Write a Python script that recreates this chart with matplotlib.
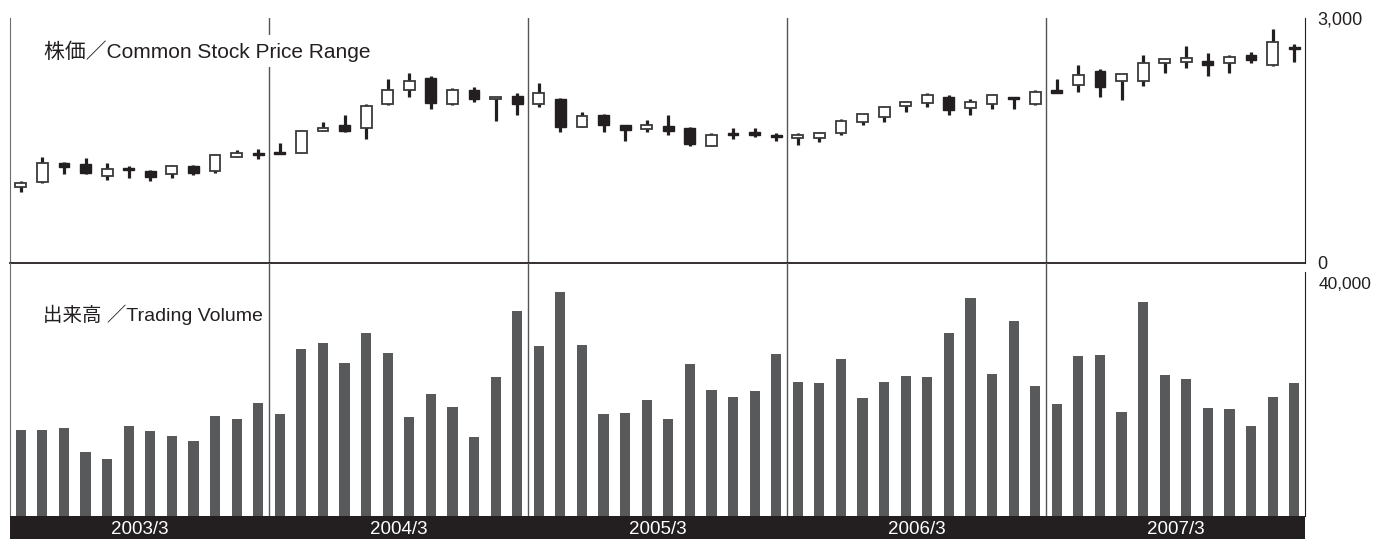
import matplotlib
matplotlib.use("Agg")
import matplotlib.pyplot as plt
from matplotlib.patches import Rectangle

plt.rcParams['font.family'] = ['Liberation Sans', 'Noto Sans CJK JP', 'DejaVu Sans']

# ---------------- data ----------------
year_labels = ["2003/3", "2004/3", "2005/3", "2006/3", "2007/3"]

opens = [923, 984, 1217, 1205, 1065, 1160, 1123, 1082, 1190, 1126, 1298, 1340,
         1352, 1347, 1617, 1683, 1647, 1945, 2117, 2264, 1941, 2117, 2002, 2047,
         1945, 2006, 1666, 1810, 1683, 1634, 1675, 1654, 1429, 1593, 1601, 1568,
         1528, 1528, 1585, 1724, 1789, 1920, 1961, 2031, 1892, 1941, 2022, 1941,
         2117, 2174, 2350, 2231, 2227, 2452, 2460, 2476, 2444, 2546, 2420, 2636]
closes = [972, 1225, 1175, 1102, 1144, 1140, 1053, 1188, 1102, 1315, 1340, 1315,
          1331, 1617, 1650, 1613, 1924, 2117, 2227, 1961, 2113, 2006, 2027, 1945,
          2076, 1663, 1798, 1687, 1626, 1683, 1613, 1454, 1564, 1561, 1568, 1536,
          1564, 1593, 1736, 1818, 1908, 1969, 2052, 1871, 1969, 2059, 2006, 2088,
          2083, 2304, 2150, 2313, 2444, 2493, 2506, 2420, 2525, 2485, 2709, 2616]
highs = [1000, 1291, 1237, 1279, 1217, 1188, 1135, 1200, 1196, 1328, 1380, 1393,
         1463, 1626, 1720, 1806, 1948, 2248, 2321, 2285, 2137, 2150, 2030, 2076,
         2199, 2015, 1843, 1818, 1686, 1748, 1810, 1666, 1585, 1647, 1654, 1593,
         1585, 1596, 1764, 1821, 1920, 1985, 2076, 2052, 2002, 2062, 2034, 2117,
         2248, 2423, 2374, 2316, 2546, 2496, 2656, 2567, 2546, 2587, 2861, 2681]
lows = [861, 980, 1082, 1086, 1009, 1033, 1004, 1033, 1077, 1094, 1295, 1266,
        1328, 1340, 1612, 1605, 1512, 1929, 2034, 1880, 1929, 1966, 1740, 1814,
        1904, 1605, 1659, 1605, 1494, 1598, 1568, 1433, 1425, 1512, 1544, 1494,
        1442, 1482, 1568, 1691, 1728, 1850, 1912, 1814, 1814, 1887, 1887, 1938,
        2076, 2096, 2034, 1994, 2169, 2321, 2390, 2288, 2321, 2444, 2416, 2464]
volumes = [14800, 14800, 15100, 11000, 9800, 15450, 14600, 13700, 12900, 17200, 16650, 19400,
           17500, 28700, 29700, 26300, 31400, 28000, 17000, 20900, 18700, 13600, 23900, 35200,
           29200, 38450, 29350, 17500, 17700, 19900, 16650, 26100, 21600, 20400, 21450, 27800,
           23000, 22800, 26950, 20250, 23000, 24000, 23850, 31400, 37400, 24400, 33500, 22300,
           19250, 27450, 27650, 17850, 36750, 24200, 23500, 18550, 18350, 15450, 20450, 22850]

# ---------------- layout (pixels) ----------------
W, H = 1380, 539
x0, x1 = 10, 1305
p_top, p_bot = 18, 262.6
v_bot = 516
v_40k = 283

def rect(left, top, right, bottom):
    return [left / W, (H - bottom) / H, (right - left) / W, (bottom - top) / H]

fig = plt.figure(figsize=(W / 100, H / 100), dpi=100)
fig.patch.set_facecolor('white')

n = len(opens)
xs = list(range(n))
grey_line = '#6d6e71'
dark = '#231f20'
bar_col = '#58595b'

# ---------------- price panel ----------------
axp = fig.add_axes(rect(x0, p_top, x1, p_bot))
axp.set_xlim(-0.5, n - 0.5)
axp.set_ylim(0, 3000)
axp.set_facecolor('none')
axp.spines['top'].set_visible(False)
axp.spines['left'].set_color(grey_line)
axp.spines['right'].set_color(dark)
axp.spines['bottom'].set_color(dark)
axp.spines['bottom'].set_linewidth(1.3)
axp.set_xticks([])
axp.yaxis.tick_right()
axp.set_yticks([0, 3000])
axp.set_yticklabels(['0', '3,000'])
axp.tick_params(axis='y', length=0, pad=9, labelsize=13, colors='#231f20')

for b in [11.5, 23.5, 35.5, 47.5]:
    axp.axvline(b, color='#555555', lw=1.0, zorder=1)

bw = 0.5
for i in xs:
    o, c, h, l = opens[i], closes[i], highs[i], lows[i]
    axp.vlines(i, l, h, color=dark, lw=2.3, zorder=3)
    bottom = min(o, c)
    height = max(abs(c - o), 25)
    if c >= o:
        axp.add_patch(Rectangle((i - bw / 2, bottom), bw, height, facecolor='white',
                                edgecolor='#3a3a3a', lw=1.3, zorder=4))
    else:
        axp.add_patch(Rectangle((i - bw / 2, bottom), bw, height, facecolor=dark,
                                edgecolor=dark, lw=1.0, zorder=4))

axp.text((44 - x0) / (x1 - x0), (p_bot - 51) / (p_bot - p_top),
         '株価／Common Stock Price Range', transform=axp.transAxes,
         fontsize=15, color='#231f20', va='center', ha='left', zorder=6,
         bbox=dict(facecolor='white', edgecolor='none', pad=4))

# ---------------- volume panel ----------------
axv = fig.add_axes(rect(x0, p_bot, x1, v_bot))
axv.set_xlim(-0.5, n - 0.5)
vmax = 40000 * (v_bot - p_bot) / (v_bot - v_40k)
axv.set_ylim(0, vmax)
axv.set_facecolor('none')
axv.spines['top'].set_visible(False)
axv.spines['bottom'].set_visible(False)
axv.spines['left'].set_color(grey_line)
axv.spines['right'].set_color(dark)
axv.spines['right'].set_bounds(0, 40000 * (v_bot - 272) / (v_bot - v_40k))
axv.set_xticks([])
axv.yaxis.tick_right()
axv.set_yticks([40000])
axv.set_yticklabels(['40,000'])
axv.tick_params(axis='y', length=0, pad=10, labelsize=12.5, colors='#231f20')

for b in [11.5, 23.5, 35.5, 47.5]:
    axv.axvline(b, color='#555555', lw=1.0, zorder=1)

axv.bar(xs, volumes, width=0.47, color=bar_col, zorder=3)

axv.text((42.7 - x0) / (x1 - x0), (v_bot - 315) / (v_bot - p_bot),
         '出来高 ／Trading Volume', transform=axv.transAxes,
         fontsize=14, color='#231f20', va='center', ha='left', zorder=6,
         bbox=dict(facecolor='white', edgecolor='none', pad=4))

# ---------------- year band ----------------
axb = fig.add_axes(rect(x0, v_bot, x1, H))
axb.set_xlim(-0.5, n - 0.5)
axb.set_ylim(0, 1)
axb.set_facecolor(dark)
for s in axb.spines.values():
    s.set_visible(False)
axb.set_xticks([])
axb.set_yticks([])
for k, lab in enumerate(year_labels):
    axb.text(12 * k + 5.5, 0.42, lab, color='white', fontsize=13.5,
             ha='center', va='center')

fig.savefig('out.png', dpi=100, facecolor='white')
